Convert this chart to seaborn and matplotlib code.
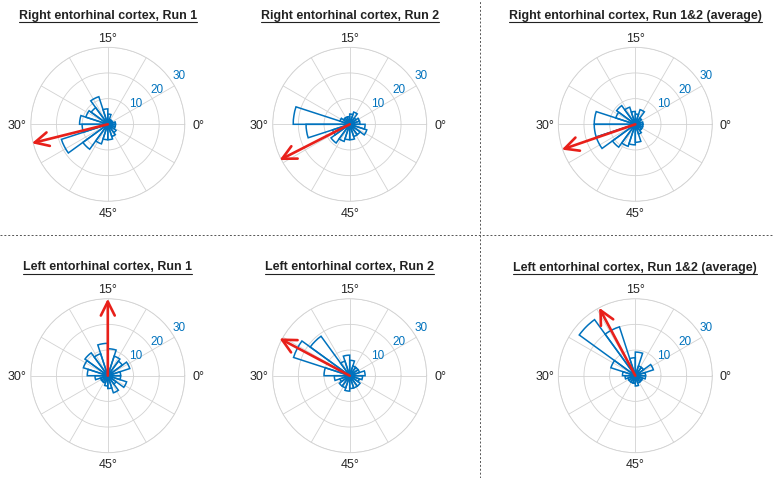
import numpy as np
import pandas as pd
import matplotlib
matplotlib.use("Agg")
import matplotlib.pyplot as plt
from matplotlib.lines import Line2D
import seaborn as sns

# panel titles, top row then bottom row
titles = [
    "Right entorhinal cortex, Run 1",
    "Right entorhinal cortex, Run 2",
    "Right entorhinal cortex, Run 1&2 (average)",
    "Left entorhinal cortex, Run 1",
    "Left entorhinal cortex, Run 2",
    "Left entorhinal cortex, Run 1&2 (average)",
]

# counts in 20 bins of 18 deg (plot angle), counter-clockwise from 0
right_run1 = [3, 2, 2, 2, 4, 6, 11.3, 8, 9, 11, 10, 19, 12, 8, 6, 6, 5, 4, 3, 3]
right_run2 = [4, 4, 3, 5, 4, 3, 3, 3, 4, 22, 17, 7, 9, 7, 6, 6, 5, 5, 7, 6]
right_avg = [3, 2, 3, 6, 4, 5, 7, 9, 8, 16, 16, 16, 11, 9, 8, 7, 4, 3, 3, 3]
left_run1 = [5, 9, 7, 8, 10.5, 12.6, 9, 11, 10, 8, 5, 3, 3, 3, 4, 5, 7, 4, 7.7, 5]
left_run2 = [6, 4, 4, 4, 6, 8, 6, 19, 23, 10, 6, 4, 5, 5, 6, 5, 5, 5, 4, 5]
left_avg = [4, 7.4, 4, 4, 9.2, 7, 20, 27, 10, 5, 4, 3, 3, 3, 3, 4, 3, 3, 3, 4]
counts = [right_run1, right_run2, right_avg, left_run1, left_run2, left_avg]

# mean vector (red arrow): direction in plot degrees and length
arrow_deg = [194, 207, 199, 90, 152, 118]
arrow_len = [30.5, 30.7, 30.3, 30, 31, 30]

angle_labels = ["0°", "15°", "30°", "45°"]
r_ticks = [10, 20, 30]

sns.set_theme(style="white")
plt.rcParams["font.family"] = ["Liberation Sans", "DejaVu Sans"]

blue = "#0072BD"
red = "#E8201A"
grid_col = "#d2d2d2"

edges = np.linspace(0, 2 * np.pi, len(right_run1) + 1)
centers = (edges[:-1] + edges[1:]) / 2

fig = plt.figure(figsize=(7.74, 4.78), dpi=100)
W, H = 774, 478
cx = [107.8, 349.7, 635.3]
cy = [124.3, 375.7]
rad = 77
label_r = [35.3, 33.8, 35.3, 34.4]  # radius of the 0/15/30/45 labels

title_objs = []
for i in range(6):
    x0 = cx[i % 3]
    y0 = cy[i // 3]
    ax = fig.add_axes([(x0 - rad) / W, 1 - (y0 + rad) / H, 2 * rad / W, 2 * rad / H],
                      projection="polar")
    df = pd.DataFrame({"angle": centers, "count": counts[i]})
    sns.histplot(data=df, x="angle", weights="count", bins=list(edges), fill=False,
                 color=blue, linewidth=1.1, ax=ax)
    ax.set_xlabel("")
    ax.set_ylabel("")
    ax.set_ylim(0, 30)
    ax.set_thetagrids(np.arange(0, 360, 30), labels=[""] * 12)
    ax.set_rgrids(r_ticks, labels=[str(t) for t in r_ticks], angle=33)
    ax.tick_params(axis="x", length=0)
    ax.tick_params(axis="y", length=0, labelsize=8.5, colors=blue)
    for k, lab in enumerate(angle_labels):
        ax.text(np.deg2rad(90 * k), label_r[k], lab, ha="center", va="center_baseline",
                fontsize=9, color="#262626", clip_on=False)
    ax.grid(True, color=grid_col, lw=0.6)
    ax.spines["polar"].set_color(grid_col)
    ax.spines["polar"].set_linewidth(0.6)
    ax.set_facecolor("white")
    ax.annotate("", xy=(np.deg2rad(arrow_deg[i]), arrow_len[i]), xytext=(0, 0),
                arrowprops=dict(arrowstyle="->", color=red, lw=1.9,
                                mutation_scale=25, shrinkA=0, shrinkB=0),
                annotation_clip=False)
    ty = 15.5 if i < 3 else 267.5
    t = fig.text(x0 / W, 1 - ty / H, titles[i], ha="center", va="center",
                 fontsize=8.9, fontweight="bold", color="#222222")
    title_objs.append(t)

# underline the titles
fig.canvas.draw()
rend = fig.canvas.get_renderer()
for t in title_objs:
    bb = t.get_window_extent(rend)
    yy = (bb.y0 - 0.3) / H
    fig.add_artist(Line2D([bb.x0 / W, bb.x1 / W], [yy, yy], transform=fig.transFigure,
                          color="#222222", lw=0.8))

# dashed separators
fig.add_artist(Line2D([0, 1], [1 - 235 / H, 1 - 235 / H], transform=fig.transFigure,
                      color="#555555", lw=0.7, ls=(0, (2, 2))))
fig.add_artist(Line2D([480.3 / W, 480.3 / W], [0, 1], transform=fig.transFigure,
                      color="#555555", lw=0.7, ls=(0, (2, 2))))

fig.savefig("out.png", dpi=100)
